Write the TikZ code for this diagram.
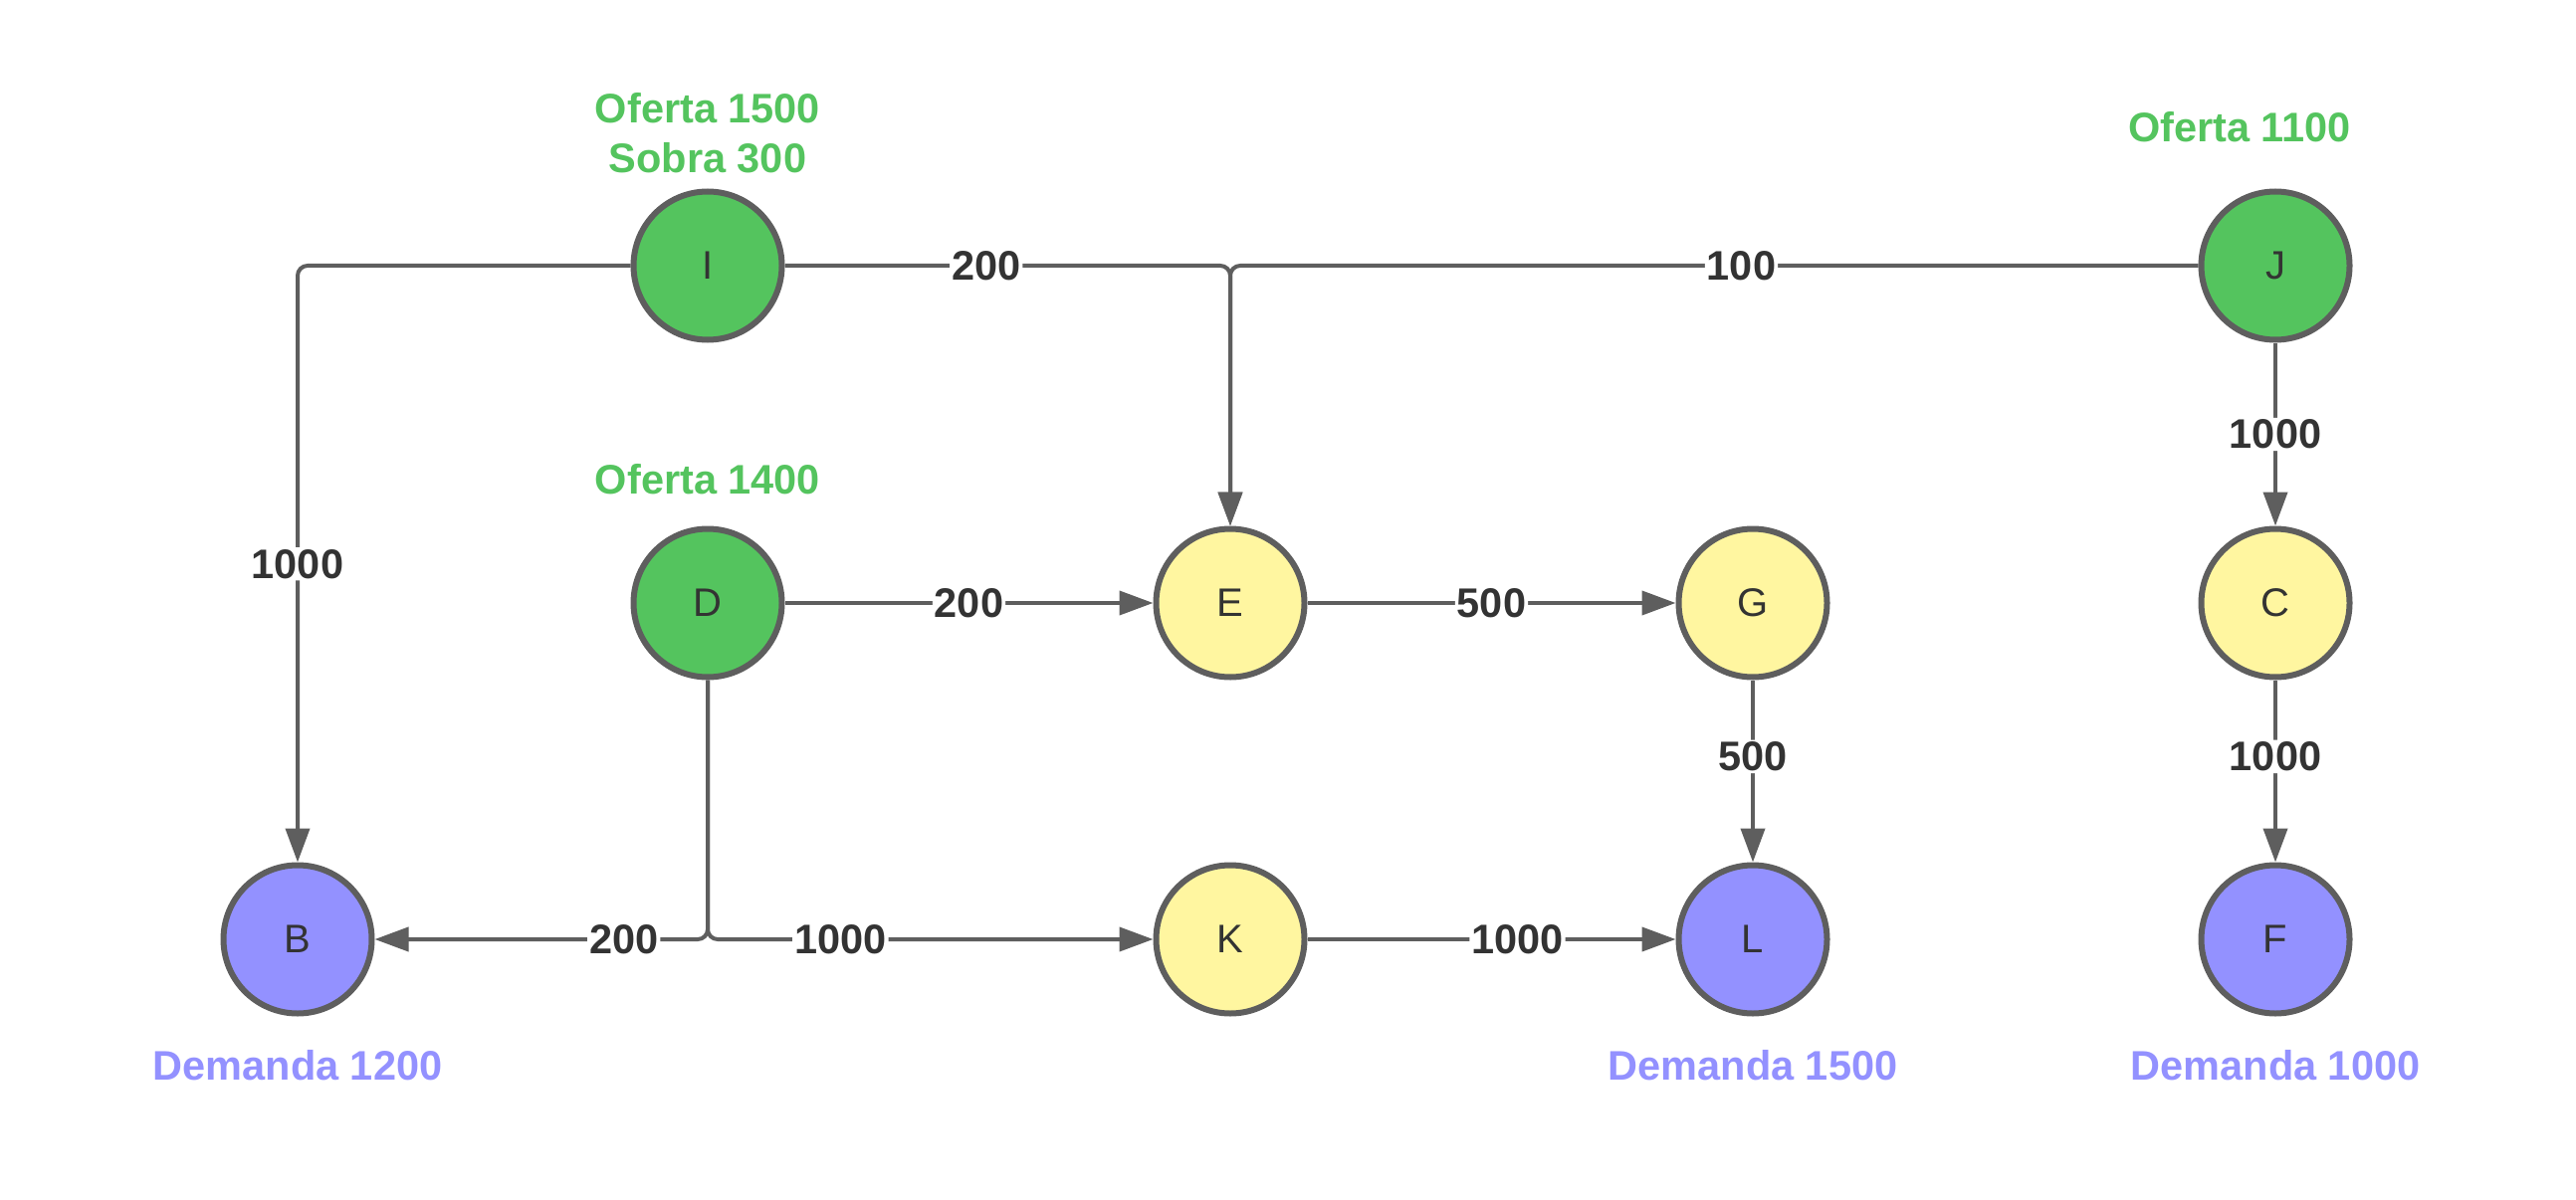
\documentclass[tikz,border=0pt]{standalone}
\usepackage{fontspec}
\setmainfont{Liberation Sans}
\usetikzlibrary{arrows.meta}
\definecolor{gfill}{HTML}{54C45E}
\definecolor{yfill}{HTML}{FFF6A0}
\definecolor{pfill}{HTML}{9391FF}
\definecolor{edgec}{HTML}{5E5E5E}
\definecolor{txtc}{HTML}{333333}
\begin{document}
\begin{tikzpicture}[x=1pt,y=-1pt,
  vert/.style={circle, draw=edgec, line width=6pt, minimum size=149pt, inner sep=0pt,
    font=\fontsize{40}{46}\selectfont, text=txtc},
  gnode/.style={vert, fill=gfill},
  ynode/.style={vert, fill=yfill},
  pnode/.style={vert, fill=pfill},
  lbl/.style={fill=white, inner sep=2pt, font=\bfseries\fontsize{41.5}{48}\selectfont, text=txtc},
  gtext/.style={font=\bfseries\fontsize{41.5}{48}\selectfont, text=gfill, inner sep=0pt},
  ptext/.style={font=\bfseries\fontsize{41.5}{48}\selectfont, text=pfill, inner sep=0pt},
  conn/.style={draw=edgec, line width=4pt, rounded corners=10pt, -{Triangle[length=34pt,width=24pt]}}
]
\useasboundingbox (0,0) rectangle (2588,1206);
\fill[white] (0,0) rectangle (2588,1206);

% nodes
\node[gnode] (I) at (711,267) {I};
\node[gnode] (J) at (2286,267) {J};
\node[gnode] (D) at (711,606) {D};
\node[ynode] (E) at (1236,606) {E};
\node[ynode] (G) at (1761,606) {G};
\node[ynode] (C) at (2286,606) {C};
\node[pnode] (B) at (299,944) {B};
\node[ynode] (K) at (1236,944) {K};
\node[pnode] (L) at (1761,944) {L};
\node[pnode] (F) at (2286,944) {F};

% annotations
\node[gtext] (t1) at (711,109) {Oferta 1500};
\node[gtext] (t2) at (711,159) {Sobra 300};
\node[gtext] (t3) at (2250,128) {Oferta 1100};
\node[gtext] (t4) at (711,482) {Oferta 1400};
\node[ptext] (t5) at (299,1071) {Demanda 1200};
\node[ptext] (t6) at (1761,1071) {Demanda 1500};
\node[ptext] (t7) at (2286,1071) {Demanda 1000};

% connectors
\draw[conn] (I.west) -| (B.north) node[lbl, pos=0.75] {1000};
\draw[conn] (I.east) -| (E.north) node[lbl, pos=0.226] {200};
\draw[conn] (J.west) -| (E.north) node[lbl, pos=0.236] {100};
\draw[conn] (J.south) -- (C.north) node[lbl, midway] {1000};
\draw[conn] (D.east) -- (E.west) node[lbl, midway] {200};
\draw[conn] (E.east) -- (G.west) node[lbl, midway] {500};
\draw[conn] (G.south) -- (L.north) node[lbl, pos=0.42] {500};
\draw[conn] (C.south) -- (F.north) node[lbl, pos=0.42] {1000};
\draw[conn] (D.south) |- (B.east) node[lbl, pos=0.626] {200};
\draw[conn] (D.south) |- (K.west) node[lbl, pos=0.649] {1000};
\draw[conn] (K.east) -- (L.west) node[lbl, pos=0.57] {1000};
\end{tikzpicture}
\end{document}
